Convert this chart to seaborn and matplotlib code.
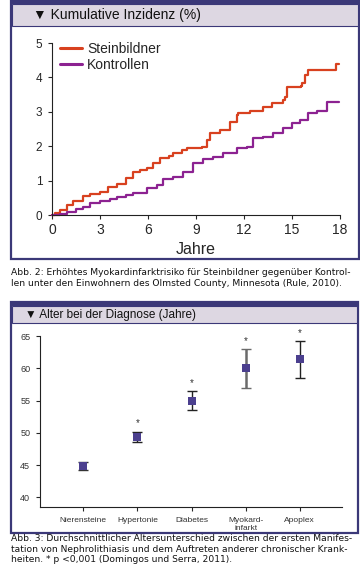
"""
Kumulative Inzidenz (Myokardinfarkt) und Alter bei der Diagnose.
"""

import matplotlib
matplotlib.use('Agg')
import matplotlib.pyplot as plt
from matplotlib.patches import Rectangle
import seaborn as sns
import numpy as np
import pandas as pd

# --- data: Abb. 2 (step curves, years vs. cumulative incidence %) ---
stein_years = [0, 0.2, 0.5, 0.92, 1.3, 1.96, 2.4, 3.0, 3.5, 4.04, 4.6, 5.08, 5.5,
               5.92, 6.3, 6.75, 7.3, 7.58, 8.1, 8.42, 9.35, 9.67, 9.875, 10.5,
               11.125, 11.54, 11.65, 12.375, 13.2, 13.73, 14.46, 14.56, 14.67,
               15.54, 15.6, 15.81, 16.02, 17.75, 17.95]
stein_vals = [0, 0.06, 0.15, 0.29, 0.40, 0.55, 0.60, 0.68, 0.80, 0.90, 1.08, 1.26,
              1.30, 1.36, 1.50, 1.67, 1.72, 1.81, 1.90, 1.94, 1.97, 2.18, 2.37,
              2.47, 2.71, 2.91, 2.97, 3.03, 3.13, 3.25, 3.34, 3.44, 3.73, 3.75,
              3.85, 4.07, 4.22, 4.39, 4.39]

kontr_years = [0, 0.5, 0.92, 1.5, 1.96, 2.37, 3.0, 3.6, 4.04, 4.6, 5.08, 5.92,
               6.54, 6.96, 7.58, 8.21, 8.83, 9.46, 10.08, 10.71, 11.125, 11.54,
               12.17, 12.58, 13.2, 13.83, 14.46, 14.98, 15.5, 16.02, 16.54, 17.2,
               17.95]
kontr_vals = [0, 0.04, 0.10, 0.17, 0.24, 0.36, 0.42, 0.46, 0.51, 0.57, 0.63, 0.78,
              0.87, 1.04, 1.11, 1.26, 1.50, 1.62, 1.68, 1.81, 1.79, 1.96, 1.99,
              2.23, 2.26, 2.37, 2.52, 2.68, 2.76, 2.97, 3.02, 3.29, 3.29]

x_ticks_top = [0, 3, 6, 9, 12, 15, 18]
y_ticks_top = [0, 1, 2, 3, 4, 5]

# --- data: Abb. 3 (age at diagnosis) ---
categories = ['Nierensteine', 'Hypertonie', 'Diabetes', 'Myokard-\ninfarkt', 'Apoplex']
age_mean = [44.8, 49.4, 55.0, 60.1, 61.4]
age_low = [44.3, 48.6, 53.5, 57.0, 58.5]
age_high = [45.4, 50.2, 56.5, 63.0, 64.2]
significant = [False, True, True, True, True]
y_ticks_bottom = [40, 45, 50, 55, 60, 65]

caption_top = ("Abb. 2: Erhöhtes Myokardinfarktrisiko für Steinbildner gegenüber Kontrol-\n"
               "len unter den Einwohnern des Olmsted County, Minnesota (Rule, 2010).")
caption_bottom = ("Abb. 3: Durchschnittlicher Altersunterschied zwischen der ersten Manifes-\n"
                  "tation von Nephrolithiasis und dem Auftreten anderer chronischer Krank-\n"
                  "heiten. * p <0,001 (Domingos und Serra, 2011).")

W, H = 360, 570
NAVY = '#3b3878'
BAND = '#ddd7e2'
RED = '#d8411f'
PURPLE = '#8c2291'
MARKER = '#4b3f8e'

sns.set_style('white')
plt.rcParams['font.family'] = ['Liberation Sans', 'DejaVu Sans']


def px_rect(x0, y0, x1, y1):
    """Pixel box (top-left origin) -> figure fraction [l, b, w, h]."""
    return [x0 / W, 1 - y1 / H, (x1 - x0) / W, (y1 - y0) / H]


def draw_frame(fig, x0, y0, x1, y1, band_h, title, title_size, title_x):
    l, b, w, h = px_rect(x0, y0, x1, y1)
    fig.patches.append(Rectangle((l, b), w, h, transform=fig.transFigure,
                                 facecolor='white', edgecolor=NAVY, linewidth=1.6, zorder=-3))
    # thick top bar
    l, b, w, h = px_rect(x0, y0, x1, y0 + 4)
    fig.patches.append(Rectangle((l, b), w, h, transform=fig.transFigure,
                                 facecolor=NAVY, edgecolor='none', zorder=-2))
    # header band
    l, b, w, h = px_rect(x0 + 1, y0 + 4, x1 - 1, y0 + 4 + band_h)
    fig.patches.append(Rectangle((l, b), w, h, transform=fig.transFigure,
                                 facecolor=BAND, edgecolor=NAVY, linewidth=0.8, zorder=-2))
    fig.text(title_x / W, 1 - (y0 + 4 + band_h / 2 + 0.5) / H, title,
             fontsize=title_size, va='center', ha='left', color='#111111')


fig = plt.figure(figsize=(W / 100, H / 100), dpi=100)

# ---------- top panel ----------
draw_frame(fig, 11, 0, 359, 259, 22, '▼ Kumulative Inzidenz (%)', 10, 33)

ax1 = fig.add_axes(px_rect(52, 43, 340, 215))
ax1.set_facecolor('none')
df_top = pd.concat([
    pd.DataFrame({'Jahre': stein_years, 'Inzidenz': stein_vals, 'Gruppe': 'Steinbildner'}),
    pd.DataFrame({'Jahre': kontr_years, 'Inzidenz': kontr_vals, 'Gruppe': 'Kontrollen'}),
])
sns.lineplot(data=df_top, x='Jahre', y='Inzidenz', hue='Gruppe',
             palette={'Steinbildner': RED, 'Kontrollen': PURPLE},
             drawstyle='steps-post', linewidth=1.6, ax=ax1, legend=True, clip_on=False)
ax1.set_xlim(0, 18)
ax1.set_ylim(0, 5)
ax1.set_xticks(x_ticks_top)
ax1.set_yticks(y_ticks_top)
ax1.tick_params(axis='x', labelsize=10, length=3, width=0.8, pad=3, direction='out',
                bottom=True)
ax1.tick_params(axis='y', labelsize=8.5, length=3, width=0.8, pad=4, direction='out',
                left=True)
ax1.set_xlabel('Jahre', fontsize=11.5, labelpad=3)
ax1.set_ylabel('')
for side in ['top', 'right']:
    ax1.spines[side].set_visible(False)
for side in ['left', 'bottom']:
    ax1.spines[side].set_color('#222222')
    ax1.spines[side].set_linewidth(0.8)
leg = ax1.legend(loc='upper left', bbox_to_anchor=(0.008, 1.04), frameon=False,
                 fontsize=10, handlelength=1.6, handletextpad=0.35,
                 labelspacing=0.15, borderaxespad=0)
for line in leg.get_lines():
    line.set_linewidth(2.2)

fig.text(11 / W, 1 - 278 / H, caption_top, fontsize=6.6, va='center', ha='left',
         linespacing=1.2, color='#111111', family='DejaVu Sans')

# ---------- bottom panel ----------
draw_frame(fig, 11, 302, 358, 533, 17, '▼ Alter bei der Diagnose (Jahre)', 8.5, 25)

ax2 = fig.add_axes(px_rect(40, 336, 342, 507))
ax2.set_facecolor('none')
pos = np.arange(len(categories))
df_bot = pd.DataFrame({'pos': pos, 'mean': age_mean})
bar_colors = ['#333333', '#222222', '#222222', '#6a6a6a', '#222222']
bar_widths = [1.3, 1.0, 1.0, 1.8, 1.0]
for i in range(len(categories)):
    ax2.errorbar(pos[i], age_mean[i],
                 yerr=[[age_mean[i] - age_low[i]], [age_high[i] - age_mean[i]]],
                 fmt='none', ecolor=bar_colors[i], elinewidth=bar_widths[i],
                 capsize=3.5, capthick=1.0, zorder=2)
sns.scatterplot(data=df_bot, x='pos', y='mean', marker='s', s=30, color=MARKER,
                edgecolor=MARKER, linewidth=0, zorder=3, ax=ax2)
for i in range(len(categories)):
    if significant[i]:
        ax2.text(pos[i], age_high[i] + 0.5, '*', ha='center', va='bottom',
                 fontsize=7, color='#333333')
ax2.set_xlim(-0.8, 4.78)
ax2.set_ylim(38.5, 65)
ax2.set_xticks(pos)
ax2.set_xticklabels(categories)
ax2.set_yticks(y_ticks_bottom)
ax2.tick_params(axis='x', labelsize=6, length=3, width=0.8, pad=4, direction='out',
                bottom=True, labelcolor='#333333')
ax2.tick_params(axis='y', labelsize=6.5, length=3, width=0.8, pad=4, direction='out',
                left=True, labelcolor='#333333')
ax2.set_xlabel('')
ax2.set_ylabel('')
for side in ['top', 'right']:
    ax2.spines[side].set_visible(False)
for side in ['left', 'bottom']:
    ax2.spines[side].set_color('#222222')
    ax2.spines[side].set_linewidth(0.8)

fig.text(11 / W, 1 - 549 / H, caption_bottom, fontsize=6.6, va='center', ha='left',
         linespacing=1.2, color='#111111', family='DejaVu Sans')

fig.savefig('out.png', dpi=100)
plt.close(fig)
